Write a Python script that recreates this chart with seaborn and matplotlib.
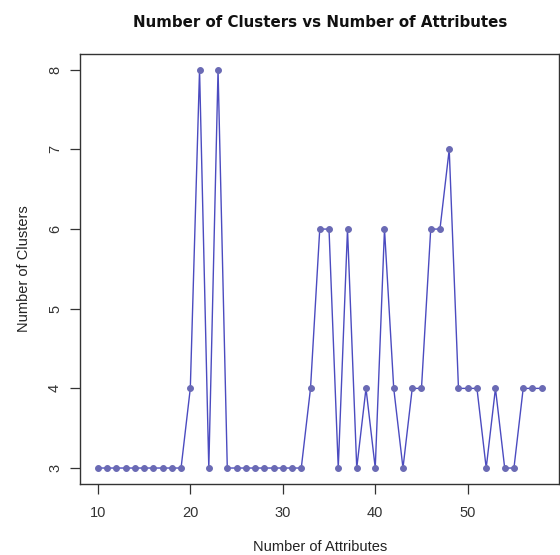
import pandas as pd
import matplotlib.pyplot as plt
import seaborn as sns

# Data
attributes = list(range(10, 59))
clusters = [3, 3, 3, 3, 3, 3, 3, 3, 3, 3,   # 10-19
            4, 8, 3, 8,                     # 20-23
            3, 3, 3, 3, 3, 3, 3, 3, 3,      # 24-32
            4, 6, 6, 3, 6, 3, 4, 3, 6, 4,   # 33-42
            3, 4, 4, 6, 6, 7, 4, 4, 4, 3,   # 43-52
            4, 3, 3, 4, 4, 4]               # 53-58
x_ticks = [10, 20, 30, 40, 50]
y_ticks = [3, 4, 5, 6, 7, 8]

LINE_COLOR = '#4b4bc0'
POINT_COLOR = '#6a6ab4'

sns.set_theme(style="white")
plt.rcParams['font.family'] = ['Liberation Sans', 'DejaVu Sans']

df = pd.DataFrame({'attributes': attributes, 'clusters': clusters})

fig = plt.figure(figsize=(5.6, 5.55), dpi=100)
ax = fig.add_axes([0.143, 0.128, 0.856, 0.775])

sns.lineplot(data=df, x='attributes', y='clusters', ax=ax,
             color=LINE_COLOR, linewidth=1.0,
             marker='o', markersize=4.2,
             markerfacecolor=POINT_COLOR, markeredgecolor=POINT_COLOR)

# R-style 4% axis expansion
span_x = attributes[-1] - attributes[0]
ax.set_xlim(attributes[0] - 0.04 * span_x, attributes[-1] + 0.04 * span_x)
ax.set_ylim(2.8, 8.2)
ax.set_xticks(x_ticks)
ax.set_yticks(y_ticks)
ax.tick_params(axis='both', direction='out', length=7, width=0.9,
               color='#333333', labelsize=10.5, labelcolor='#333333',
               bottom=True, left=True)
ax.tick_params(axis='x', pad=9)
ax.tick_params(axis='y', pad=6)
for lbl in ax.get_yticklabels():
    lbl.set_rotation(90)
    lbl.set_va('center')

for spine in ax.spines.values():
    spine.set_visible(True)
    spine.set_color('#333333')
    spine.set_linewidth(1.0)

ax.set_xlabel('Number of Attributes', fontsize=10.5, color='#222222', labelpad=14)
ax.set_ylabel('Number of Clusters', fontsize=10.5, color='#222222', labelpad=12)
ax.set_title('Number of Clusters vs Number of Attributes',
             fontsize=10.8, fontweight='bold', color='#111111', pad=19,
             family='DejaVu Sans')

plt.savefig('out.png', dpi=100)
plt.close()
